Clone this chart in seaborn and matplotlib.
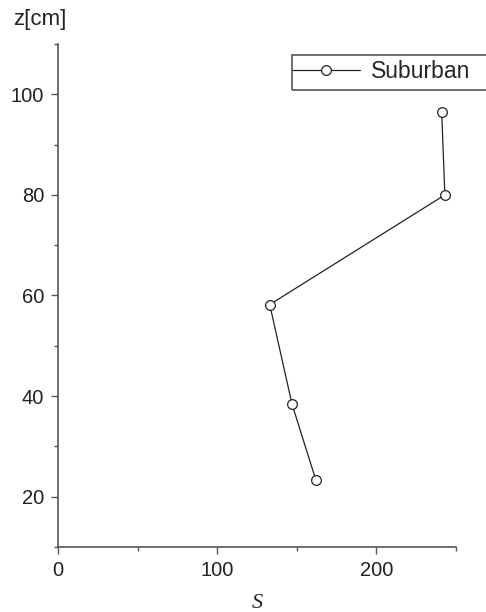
import numpy as np
import pandas as pd
import seaborn as sns
import matplotlib.pyplot as plt
from matplotlib.patches import Rectangle

# values
s_values = [162, 147, 133, 243, 241]
z_values = [23.3, 38.4, 58.2, 80.0, 96.5]
series = "Suburban"

sns.set_style("ticks")
plt.rcParams['font.family'] = ['Liberation Sans', 'DejaVu Sans']

df = pd.DataFrame({"S": s_values, "z": z_values, "site": series})

fig = plt.figure(figsize=(4.86, 6.12), dpi=100)
ax = fig.add_axes([58 / 486, 65 / 612, 398 / 486, 503 / 612])

sns.lineplot(data=df, x="S", y="z", hue="site", sort=False, ax=ax,
             palette=["#222222"], linewidth=0.9, marker="o", markersize=7,
             markerfacecolor="white", markeredgecolor="#222222",
             markeredgewidth=0.9, legend=True)

ax.set_xlim(0, 250)
ax.set_ylim(10, 110)
ax.set_xticks([0, 100, 200])
ax.set_xticks([50, 150, 250], minor=True)
ax.set_yticks([20, 40, 60, 80, 100])
ax.set_yticks([10, 30, 50, 70, 90, 110], minor=True)
ax.tick_params(axis="both", which="major", length=5, width=1, color="#555555",
               labelsize=14.5, labelcolor="#222222", pad=5)
ax.tick_params(axis="both", which="minor", length=3, width=1, color="#555555")

sns.despine(ax=ax)
for side in ("left", "bottom"):
    ax.spines[side].set_color("#555555")
    ax.spines[side].set_linewidth(1.2)

ax.set_xlabel("S", fontsize=16, fontstyle="italic", family="Liberation Serif",
              color="#222222", labelpad=10)
ax.set_ylabel("")
fig.text(13 / 486, 1 - 19 / 612, "z[cm]", fontsize=16, color="#222222",
         ha="left", va="center")

# legend box runs off the right edge of the figure
fig.patches.append(Rectangle((292 / 486, 1 - 90 / 612), 200 / 486, 35 / 612,
                             transform=fig.transFigure, fill=False,
                             edgecolor="#555555", linewidth=1.2))
leg = ax.legend(loc="center left", bbox_to_anchor=(292 / 486, 1 - 72 / 612),
                bbox_transform=fig.transFigure, fontsize=16.5, frameon=False,
                handlelength=2.95, handletextpad=0.5, borderpad=0,
                borderaxespad=0)
leg.set_title(None)

fig.savefig("out.png", dpi=100)
